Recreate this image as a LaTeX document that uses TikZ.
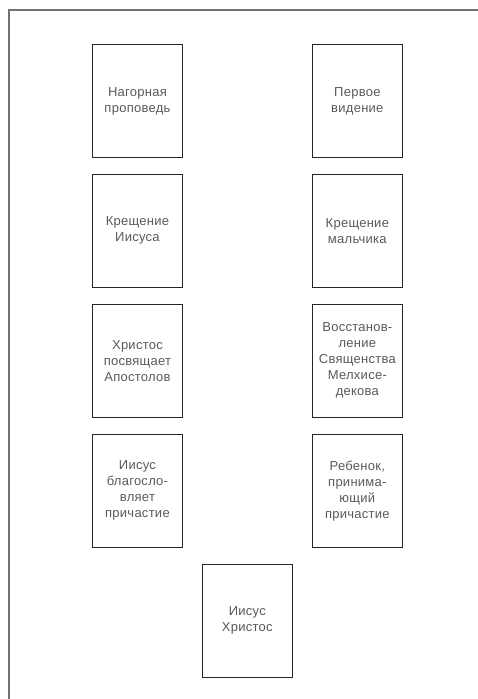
\documentclass[tikz,border=0pt]{standalone}
\usepackage{fontspec}
\setmainfont{Liberation Sans}[LetterSpace=2]
\usetikzlibrary{positioning}

\begin{document}
\begin{tikzpicture}[
			x=1pt, y=1pt,
			node distance=16pt and 129pt,
			card/.style={rectangle, draw=black!85, line width=0.9pt, minimum width=90pt, minimum height=113pt,
				inner sep=0pt, align=center, text=black!65, font=\fontsize{13}{16}\selectfont},
			frame/.style={draw=black!55, line width=1.6pt}
			]
			\useasboundingbox (0,0) rectangle (478,-699);
			% Outer frame
			\draw[frame] (9,-699) -- (9,-10) -- (478,-10);
			
			% Left column
			\node[card, anchor=north west] (sermon) at (92,-44) {Нагорная\\проповедь};
			\node[card, below=of sermon] (baptjesus) {Крещение\\Иисуса};
			\node[card, below=of baptjesus] (apostles) {Христос\\посвящает\\Апостолов};
			\node[card, below=of apostles] (blesses) {Иисус\\благосло-\\вляет\\причастие};
			
			% Right column
			\node[card, right=of sermon] (vision) {Первое\\видение};
			\node[card, below=of vision] (baptboy) {Крещение\\мальчика};
			\node[card, below=of baptboy] (priesthood) {Восстанов-\\ление\\Священства\\Мелхисе-\\декова};
			\node[card, below=of priesthood] (child) {Ребенок,\\принима-\\ющий\\причастие};
			
			% Centre
			\node[card, anchor=north west] (christ) at ([shift={(19,-16)}]blesses.south east) {Иисус\\Христос};
			
		\end{tikzpicture}
\end{document}
